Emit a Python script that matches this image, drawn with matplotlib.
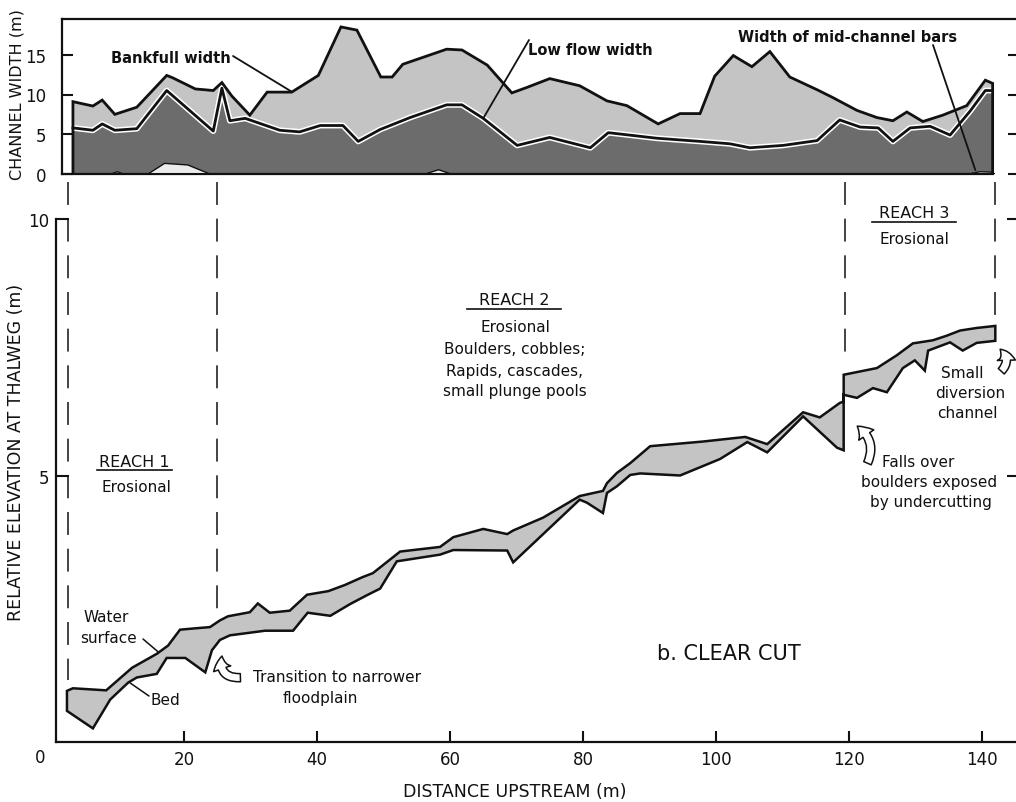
import numpy as np
import matplotlib
matplotlib.use("Agg")
import matplotlib.pyplot as plt
from matplotlib.lines import Line2D
from matplotlib.patches import FancyArrowPatch
import matplotlib.patheffects as pe

plt.rcParams['font.family'] = ['DejaVu Sans']

# ---------------- channel width (upper panel) ----------------
bankfull_x = [3.3, 6.3, 7.7, 9.6, 12.9, 17.4, 18.3, 21.7, 24.4, 25.7, 27.2, 29.9,
              32.5, 36.2, 40.2, 43.6, 46.0, 49.6, 51.3, 52.9, 59.5, 61.8, 65.6,
              69.3, 71.6, 75.0, 79.5, 83.6, 86.6, 91.3, 94.6, 97.6, 99.8, 102.6,
              105.4, 108.1, 111.1, 115.2, 117.6, 121.2, 124.2, 126.6, 128.7,
              131.1, 134.1, 137.7, 140.5, 141.6]
bankfull_w = [9.1, 8.55, 9.3, 7.5, 8.4, 12.4, 12.1, 10.7, 10.5, 11.5, 9.8, 7.4,
              10.3, 10.3, 12.4, 18.5, 18.1, 12.2, 12.2, 13.8, 15.7, 15.6, 13.7,
              10.2, 10.9, 12.0, 11.1, 9.2, 8.6, 6.3, 7.6, 7.6, 12.3, 14.9,
              13.5, 15.4, 12.2, 10.6, 9.6, 8.0, 7.1, 6.7, 7.8,
              6.6, 7.4, 8.6, 11.8, 11.4]

lowflow_x = [3.3, 6.3, 7.7, 9.6, 12.9, 17.4, 24.4, 25.7, 26.9, 29.2, 34.4, 37.4,
             40.5, 43.9, 46.2, 49.5, 54.0, 59.5, 61.8, 65.0, 70.1, 75.0, 81.1,
             83.8, 91.1, 97.6, 102.1, 105.1, 110.1, 115.2, 118.6, 121.7, 124.4,
             126.6, 129.2, 132.2, 135.2, 138.2, 140.5, 141.6]
lowflow_w = [5.8, 5.5, 6.3, 5.5, 5.7, 10.5, 5.4, 10.8, 6.7, 7.0, 5.5, 5.3,
             6.1, 6.1, 4.1, 5.6, 7.1, 8.7, 8.7, 7.0, 3.6, 4.6, 3.3,
             5.2, 4.5, 4.1, 3.8, 3.3, 3.6, 4.2, 6.8, 5.9, 5.8,
             4.1, 5.8, 6.0, 4.9, 7.9, 10.5, 10.5]

bar_x = [8.8, 9.9, 11.0, 14.4, 17.0, 20.5, 24.0, 56.0, 58.2, 60.3, 137.6, 139.6, 141.4]
bar_w = [0.0, 0.35, 0.0, 0.0, 1.4, 1.2, 0.0, 0.0, 0.6, 0.0, 0.0, 0.35, 0.3]

# ---------------- longitudinal profile (lower panel) ----------------
surface_x = [2.4, 3.3, 8.3, 12.2, 15.9, 17.6, 19.4, 22.0, 23.9, 25.4, 26.6, 29.9,
             31.1, 32.9, 35.9, 38.5, 41.7, 44.2, 46.8, 48.4, 52.5, 58.5, 60.5,
             65.0, 68.6, 69.5, 74.0, 79.5, 83.0, 83.6, 85.1, 87.1, 90.1, 98.0,
             104.4, 107.7, 113.1, 115.6, 118.6, 119.2, 119.2, 124.2, 127.2,
             129.6, 132.6, 134.7, 136.7, 139.2, 142.0]
surface_z = [0.82, 0.87, 0.83, 1.27, 1.54, 1.70, 2.01, 2.04, 2.06, 2.19, 2.27, 2.35,
             2.52, 2.34, 2.38, 2.69, 2.76, 2.88, 3.03, 3.11, 3.53, 3.62, 3.81,
             3.97, 3.87, 3.94, 4.19, 4.61, 4.71, 4.86, 5.06, 5.25, 5.58, 5.67,
             5.76, 5.62, 6.24, 6.14, 6.42, 6.45, 6.97, 7.10, 7.35,
             7.58, 7.64, 7.73, 7.83, 7.88, 7.92]

bed_x = [2.4, 6.3, 8.9, 11.6, 12.9, 15.9, 17.4, 20.2, 23.2, 24.2, 25.4, 26.9,
         32.2, 36.4, 38.6, 42.0, 45.0, 47.5, 49.5, 52.0, 58.5, 60.5, 68.6, 69.5,
         79.5, 80.6, 83.0, 83.6, 85.1, 87.1, 88.6, 94.6, 100.6, 104.7, 107.7,
         113.1, 118.2, 119.2, 119.2, 121.2, 123.6, 125.7, 128.1, 129.9, 131.4,
         131.9, 135.2, 137.1, 139.2, 142.0]
bed_z = [0.43, 0.09, 0.65, 0.98, 1.08, 1.15, 1.46, 1.46, 1.18, 1.61, 1.81, 1.90,
         1.99, 1.99, 2.34, 2.28, 2.51, 2.68, 2.81, 3.34, 3.47, 3.56, 3.55, 3.32,
         4.54, 4.48, 4.28, 4.67, 4.80, 5.02, 5.05, 5.01, 5.33, 5.66, 5.46,
         6.16, 5.55, 5.50, 6.58, 6.52, 6.71, 6.63, 7.10, 7.25, 7.05,
         7.44, 7.60, 7.44, 7.59, 7.63]

reach_bounds = [2.5, 25.0, 119.4, 142.0]
distance_ticks = [20, 40, 60, 80, 100, 120, 140]
width_ticks = [0, 5, 10, 15]
elev_ticks = [5, 10]

# ---------------- figure layout (pixel helpers) ----------------
W, H = 1016, 803
fig = plt.figure(figsize=(W / 100, H / 100), dpi=100)
fig.patch.set_facecolor('white')


def fx(px):
    return px / W


def fy(py):
    return 1 - py / H


M_PER_PX = 1 / 6.65
X0_PX = 51
x_right = (1019 - X0_PX) * M_PER_PX

ax_top = fig.add_axes([fx(62), fy(175), fx(1019) - fx(62), (175 - 20) / H])
ax_bot = fig.add_axes([fx(56), fy(743), fx(1019) - fx(56), (743 - 220) / H])

LIGHT = '#c4c4c4'
DARK = '#6c6c6c'
INK = '#111111'

# ---------------- upper panel ----------------
ax_top.set_xlim((62 - X0_PX) * M_PER_PX, x_right)
ax_top.set_ylim(0, 155 / 7.95)

bx = np.asarray(bankfull_x)
bw = np.asarray(bankfull_w)
lx = np.asarray(lowflow_x)
lw_ = np.asarray(lowflow_w)

ax_top.fill(np.r_[bx[0], bx, bx[-1]], np.r_[0, bw, 0], facecolor=LIGHT,
            edgecolor='none', zorder=1)
ax_top.fill(np.r_[lx[0], lx, lx[-1]], np.r_[0, lw_, 0], facecolor=DARK,
            edgecolor='none', zorder=2)
ax_top.plot(lx, lw_, color=INK, lw=2.0, zorder=3,
            path_effects=[pe.Stroke(linewidth=4.2, foreground='white'), pe.Normal()])
ax_top.plot(np.r_[bx[0], bx, bx[-1]], np.r_[0, bw, 0], color=INK, lw=2.0,
            zorder=4, solid_joinstyle='miter')
ax_top.fill_between(bar_x, 0, bar_w, facecolor='#ececec', edgecolor=INK,
                    lw=1.0, zorder=5)
ax_top.plot([bx[0], bx[-1]], [0, 0], color=INK, lw=2.2, zorder=6)

ax_top.set_xticks([])
ax_top.set_yticks(width_ticks)
ax_top.set_yticklabels([str(t) for t in width_ticks], fontsize=12)
ax_top.tick_params(axis='y', direction='in', length=8, width=1.5, pad=11,
                   left=True, right=True, colors=INK)
for side in ('top', 'left', 'right', 'bottom'):
    ax_top.spines[side].set_linewidth(1.6)
    ax_top.spines[side].set_color(INK)
ax_top.spines['bottom'].set_bounds(ax_top.get_xlim()[0], bx[-1])
ax_top.patch.set_alpha(0)

ax_top.annotate('', xy=(36.3, 10.3), xytext=(233, H - 57),
                textcoords='figure pixels',
                arrowprops=dict(arrowstyle='-', lw=1.3, color=INK,
                                shrinkA=0, shrinkB=0))
fig.text(fx(231), fy(63), 'Bankfull width', ha='right', va='baseline',
         fontsize=10.5, fontweight='bold', color=INK)

ax_top.annotate('', xy=(65.0, 7.0), xytext=(529, H - 41),
                textcoords='figure pixels',
                arrowprops=dict(arrowstyle='-', lw=1.3, color=INK,
                                shrinkA=0, shrinkB=0))
fig.text(fx(528), fy(55), 'Low flow width', ha='left', va='baseline',
         fontsize=10.5, fontweight='bold', color=INK)

ax_top.annotate('', xy=(139.0, 0.5), xytext=(933, H - 46),
                textcoords='figure pixels',
                arrowprops=dict(arrowstyle='-', lw=1.3, color=INK,
                                shrinkA=0, shrinkB=0))
fig.text(fx(848), fy(42), 'Width of mid-channel bars', ha='center',
         va='baseline', fontsize=10.5, fontweight='bold', color=INK)

# ---------------- lower panel ----------------
ax_bot.set_xlim((56 - X0_PX) * M_PER_PX, x_right)
ax_bot.set_ylim(10 - 523 / 51.4, 10)

sx = np.asarray(surface_x)
sz = np.asarray(surface_z)
ex = np.asarray(bed_x)
ez = np.asarray(bed_z)
ax_bot.fill(np.r_[sx, ex[::-1]], np.r_[sz, ez[::-1]], facecolor=LIGHT,
            edgecolor=INK, lw=1.8, joinstyle='miter', zorder=3)

# reach boundaries
dash_top = 10 + 37 / 51.4
for xb in reach_bounds:
    z_end = np.interp(xb, sx, sz) + 0.2
    ax_bot.plot([xb, xb], [dash_top, z_end], color=INK, lw=1.1,
                dashes=(15, 9), clip_on=False, zorder=2)

ax_bot.set_xticks(distance_ticks)
ax_bot.set_xticklabels([str(t) for t in distance_ticks], fontsize=12)
ax_bot.set_yticks(elev_ticks)
ax_bot.set_yticklabels([str(t) for t in elev_ticks], fontsize=12)
ax_bot.tick_params(axis='x', direction='in', length=8, width=1.5, pad=6,
                   colors=INK)
ax_bot.tick_params(axis='y', direction='in', length=9, width=1.5, pad=5,
                   left=True, right=True, colors=INK)
ax_bot.spines['top'].set_visible(False)
for side in ('left', 'bottom', 'right'):
    ax_bot.spines[side].set_linewidth(1.6)
    ax_bot.spines[side].set_color(INK)
ax_bot.patch.set_alpha(0)

fig.text(fx(40), fy(758), '0', ha='center', va='center', fontsize=12, color=INK)

# axis titles
fig.text(fx(515), fy(797), 'DISTANCE UPSTREAM (m)', ha='center', va='baseline',
         fontsize=12.5, color=INK)
fig.text(fx(17), fy(95), 'CHANNEL WIDTH (m)', ha='center', va='center',
         rotation=90, fontsize=11.5, color=INK)
fig.text(fx(16), fy(452), 'RELATIVE ELEVATION AT THALWEG (m)', ha='center',
         va='center', rotation=90, fontsize=12.5, color=INK)


def label(px, py, s, size=11, ha='center'):
    fig.text(fx(px), fy(py), s, ha=ha, va='baseline', fontsize=size, color=INK)


def underline(x0, x1, py):
    fig.add_artist(Line2D([fx(x0), fx(x1)], [fy(py), fy(py)], color=INK, lw=1.2,
                          transform=fig.transFigure))


# reach descriptions
label(134, 467, 'REACH 1', 11.5)
underline(97, 172, 471)
label(136, 492, 'Erosional')

label(514, 305, 'REACH 2', 11.5)
underline(467, 561, 310)
label(515, 332, 'Erosional')
label(515, 354, 'Boulders, cobbles;')
label(515, 376, 'Rapids, cascades,')
label(515, 396, 'small plunge pools')

label(914, 218, 'REACH 3', 11.5)
underline(872, 956, 223)
label(914, 244, 'Erosional')

# profile annotations
label(83, 622, 'Water', ha='left')
label(80, 643, 'surface', ha='left')
ax_bot.annotate('', xy=(16.2, np.interp(16.2, sx, sz)), xytext=(143, H - 640),
                textcoords='figure pixels',
                arrowprops=dict(arrowstyle='-', lw=1.1, color=INK,
                                shrinkA=0, shrinkB=0))
label(150, 705, 'Bed', ha='left')
ax_bot.annotate('', xy=(11.9, np.interp(11.9, ex, ez) - 0.03),
                xytext=(149, H - 697), textcoords='figure pixels',
                arrowprops=dict(arrowstyle='-', lw=1.1, color=INK,
                                shrinkA=0, shrinkB=0))

label(253, 682, 'Transition to narrower', ha='left')
label(283, 703, 'floodplain', ha='left')

label(918, 467, 'Falls over')
label(929, 487, 'boulders exposed')
label(931, 507, 'by undercutting')

label(962, 378, 'Small')
label(970, 398, 'diversion')
label(967, 418, 'channel')

label(657, 660, 'b. CLEAR CUT', 15, ha='left')


def hollow_arrow(p_tail, p_head, rad):
    arr = FancyArrowPatch(p_tail, p_head, transform=ax_bot.transData,
                          arrowstyle='simple,head_length=0.7,head_width=1.0,tail_width=0.45',
                          connectionstyle=f'arc3,rad={rad}', mutation_scale=13,
                          facecolor='white', edgecolor=INK, lw=1.1,
                          clip_on=False, zorder=6)
    ax_bot.add_patch(arr)


hollow_arrow((28.9, 1.08), (25.8, 1.55), -0.7)
hollow_arrow((122.6, 5.2), (120.9, 6.0), 0.45)
hollow_arrow((142.6, 7.0), (142.4, 7.5), 0.6)

fig.savefig('out.png', dpi=100, facecolor='white')
